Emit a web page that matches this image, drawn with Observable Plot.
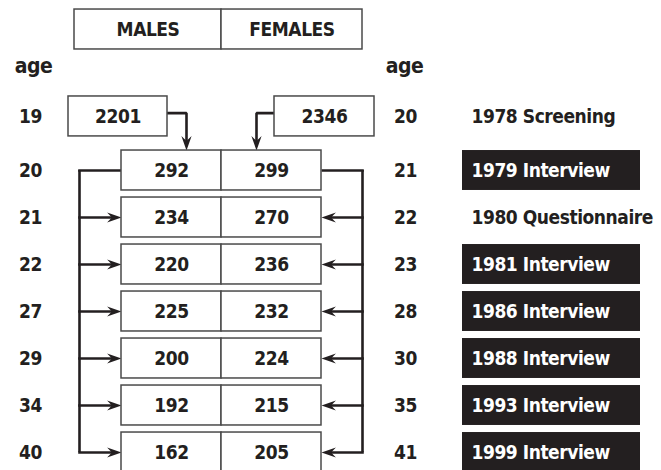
<!DOCTYPE html>
<html><head><meta charset="utf-8">
<script src="https://cdn.jsdelivr.net/npm/d3@7"></script>
<script src="https://cdn.jsdelivr.net/npm/@observablehq/plot@0.6"></script>
<style>body{margin:0;background:#fff}svg{display:block}</style>
</head><body><div id="chart"></div>
<script>
// ---- data ----
const sexes = ["MALES", "FEMALES"];
const maleAges = [19, 20, 21, 22, 27, 29, 34, 40];
const femaleAges = [20, 21, 22, 23, 28, 30, 35, 41];
const males = [2201, 292, 234, 220, 225, 200, 192, 162];
const females = [2346, 299, 270, 236, 232, 224, 215, 205];
const events = ["1978 Screening", "1979 Interview", "1980 Questionnaire", "1981 Interview",
  "1986 Interview", "1988 Interview", "1993 Interview", "1999 Interview"];
const ageLabel = "age";

// ---- layout ----
const FONT = "'Liberation Sans Narrow','DejaVu Sans Condensed','Open Sans',sans-serif";
const INK = "#231f20";
const BOX = "#4a4a4a";
const h = 0.425; // half box height in row units
const slotOf = i => (i === 0 ? -0.15 : i);
const HEADER = -2.0, AGEROW = -1.21;
const col = {
  leftAge: 30, rightAge: 405, bracketL: 79, bracketR: 362,
  mainL: 121, mainM: 221, mainR: 321,
  m0: [68, 167], f0: [274, 374],
  hdr: [74, 221, 362], evt: [462, 640], evtText: 471,
  elbowM: 186, elbowF: 256
};

const rows = males.map((m, i) => ({
  i, slot: slotOf(i), male: m, female: females[i],
  maleAge: maleAges[i], femaleAge: femaleAges[i],
  event: events[i], interview: /Interview/.test(events[i])
}));

const cells = rows.flatMap(r => r.i === 0
  ? [{slot: r.slot, x1: col.m0[0], x2: col.m0[1], v: r.male},
     {slot: r.slot, x1: col.f0[0], x2: col.f0[1], v: r.female}]
  : [{slot: r.slot, x1: col.mainL, x2: col.mainM, v: r.male},
     {slot: r.slot, x1: col.mainM, x2: col.mainR, v: r.female}]);

const header = sexes.map((s, k) => ({s, x1: col.hdr[k], x2: col.hdr[k + 1]}));

const later = rows.filter(r => r.i >= 1);
const arrowRows = rows.filter(r => r.i >= 2);
const first = rows[1], last = rows[rows.length - 1];

const yElbow = rows[0].slot - 0.07;
const yTop1 = first.slot - h;
const elbows = [
  {k: "m", x: col.m0[1], y: yElbow}, {k: "m", x: col.elbowM, y: yElbow}, {k: "m", x: col.elbowM, y: yTop1 - 0.12},
  {k: "f", x: col.f0[0], y: yElbow}, {k: "f", x: col.elbowF, y: yElbow}, {k: "f", x: col.elbowF, y: yTop1 - 0.12}
];

// arrowhead symbol, tip at origin, pointing right
const arrowHead = {
  draw(ctx, size) {
    const s = Math.sqrt(size / Math.PI);
    const L = 2.4 * s, W = 0.85 * s, N = 1.6 * s;
    ctx.moveTo(0, 0);
    ctx.lineTo(-L, -W);
    ctx.lineTo(-N, 0);
    ctx.lineTo(-L, W);
    ctx.closePath();
  }
};

const txt = {fontFamily: FONT, fontWeight: "bold", fontSize: 19};

const chart = Plot.plot({
  width: 661, height: 470, margin: 0,
  style: {letterSpacing: "-0.45px"},
  x: {type: "linear", domain: [0, 661], axis: null},
  y: {type: "linear", domain: [-2.617, 7.383], reverse: true, axis: null},
  marks: [
    // header
    Plot.rect(header, {x1: "x1", x2: "x2", y1: HEADER - h, y2: HEADER + h, fill: "white", stroke: BOX, strokeWidth: 1.5}),
    Plot.text(header, {x: d => (d.x1 + d.x2) / 2, y: HEADER, text: "s", fill: INK, ...txt}),
    // event boxes
    Plot.rect(rows.filter(r => r.interview), {x1: col.evt[0], x2: col.evt[1], y1: d => d.slot - h, y2: d => d.slot + h, fill: INK}),
    Plot.text(rows, {x: col.evtText, y: "slot", text: "event", textAnchor: "start", fill: d => d.interview ? "white" : INK, ...txt}),
    // connectors
    Plot.ruleX([0], {x: col.bracketL, y1: first.slot, y2: last.slot, stroke: INK, strokeWidth: 2.6}),
    Plot.ruleX([0], {x: col.bracketR, y1: first.slot, y2: last.slot, stroke: INK, strokeWidth: 2.6}),
    Plot.link(later, {x1: col.bracketL - 1.3, x2: d => d.i === 1 ? col.mainL : col.mainL - 8, y1: "slot", y2: "slot", stroke: INK, strokeWidth: 2.6}),
    Plot.link(later, {x1: col.bracketR + 1.3, x2: d => d.i === 1 ? col.mainR : col.mainR + 8, y1: "slot", y2: "slot", stroke: INK, strokeWidth: 2.6}),
    Plot.line(elbows, {x: "x", y: "y", z: "k", stroke: INK, strokeWidth: 2.6, strokeLinejoin: "miter", curve: "linear"}),
    Plot.dot(arrowRows, {x: col.mainL, y: "slot", symbol: arrowHead, r: 6, fill: INK, stroke: "none"}),
    Plot.dot(arrowRows, {x: col.mainR, y: "slot", symbol: arrowHead, r: 6, rotate: 180, fill: INK, stroke: "none"}),
    Plot.dot([col.elbowM, col.elbowF], {x: d => d, y: yTop1, symbol: arrowHead, r: 6, rotate: 90, fill: INK, stroke: "none"}),
    // data boxes
    Plot.rect(cells, {x1: "x1", x2: "x2", y1: d => d.slot - h, y2: d => d.slot + h, fill: "white", stroke: BOX, strokeWidth: 1.5}),
    Plot.text(cells, {x: d => (d.x1 + d.x2) / 2, y: "slot", text: d => String(d.v), fill: INK, ...txt}),
    // ages
    Plot.text([ageLabel], {x: 33, y: AGEROW, text: d => d, fill: INK, ...txt, fontSize: 21}),
    Plot.text([ageLabel], {x: 404, y: AGEROW, text: d => d, fill: INK, ...txt, fontSize: 21}),
    Plot.text(rows, {x: col.leftAge, y: "slot", text: "maleAge", fill: INK, ...txt}),
    Plot.text(rows, {x: col.rightAge, y: "slot", text: "femaleAge", fill: INK, ...txt})
  ]
});
document.getElementById("chart").append(chart);
</script>
</body></html>
